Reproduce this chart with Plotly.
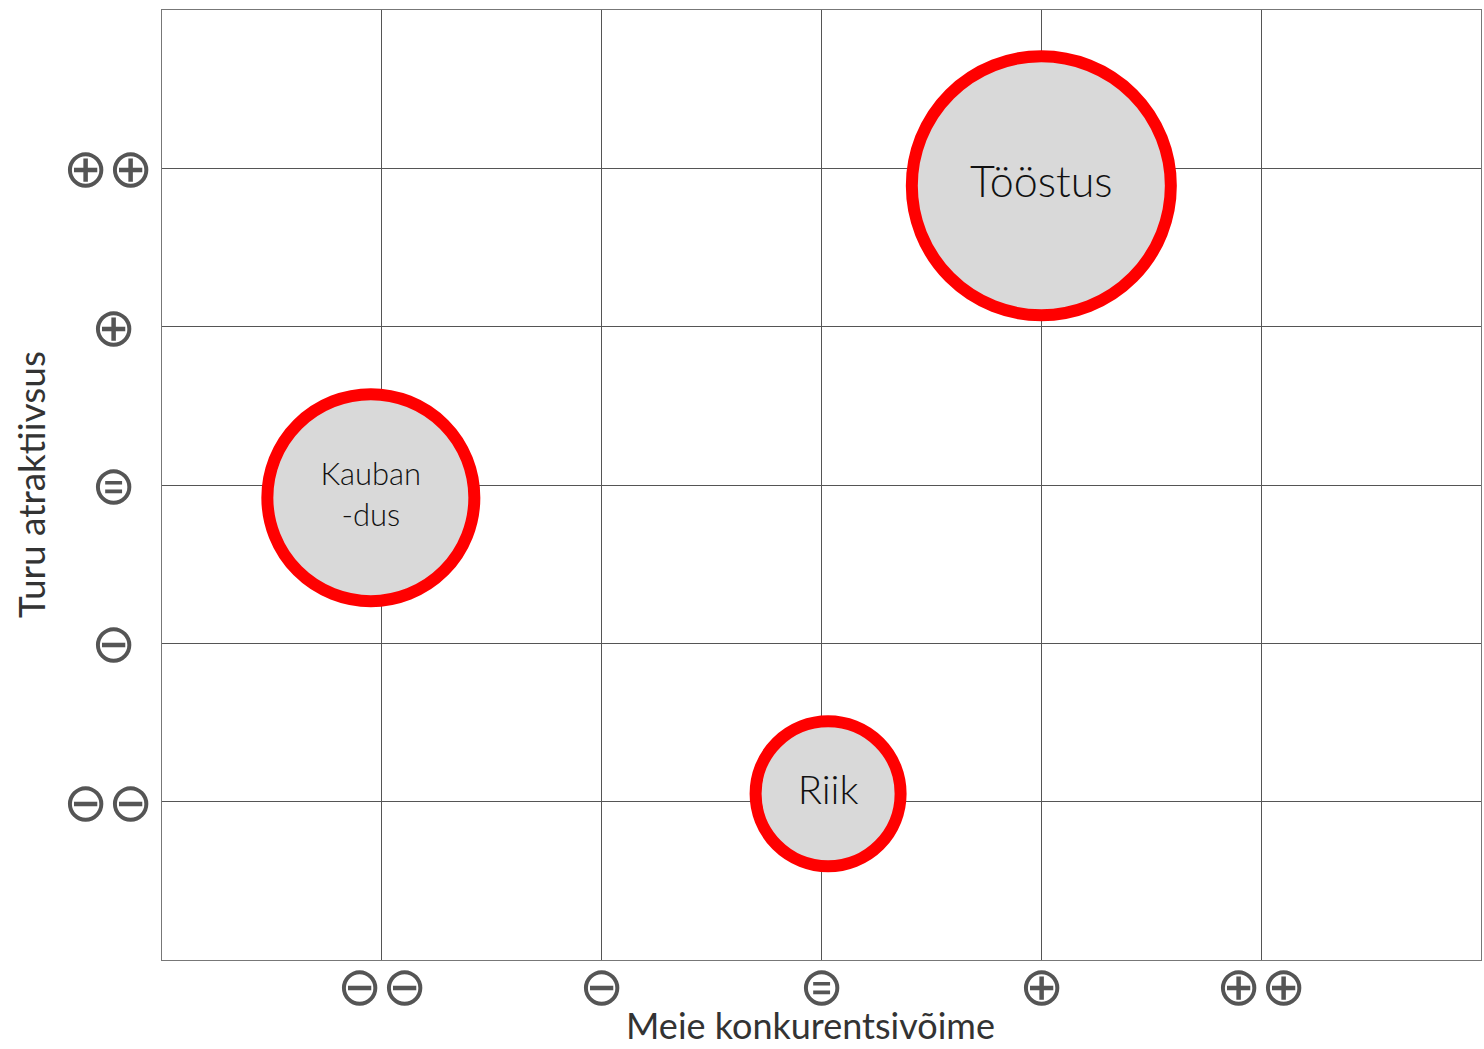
import plotly.graph_objects as go

# Data
names = ["Tööstus", "Kauban<br>-dus", "Riik"]
competitiveness = [4.0, 0.95, 3.03]
attractiveness = [4.89, 2.92, 1.05]
bubble_size = [259, 207, 145]
text_size = [43, 31, 40]

tick_vals = [1, 2, 3, 4, 5]
x_tick_text = ["⊖⊖", "⊖", "⊜", "⊕", "⊕⊕"]
y_tick_text = ["⊖⊖", "⊖\u00a0", "⊜\u00a0", "⊕\u00a0", "⊕⊕"]
x_title = "Meie konkurentsivõime"
y_title = "Turu atraktiivsus"

fig = go.Figure()
fig.add_trace(go.Scatter(
    x=competitiveness, y=attractiveness,
    mode="markers+text",
    text=names,
    textposition="middle center",
    textfont=dict(family="Lato", size=text_size, color="#111", weight=300),
    marker=dict(size=bubble_size, color="#d9d9d9",
                line=dict(color="#ff0000", width=12), opacity=1),
    hoverinfo="skip",
    showlegend=False,
))

axis_common = dict(
    tickvals=tick_vals,
    showgrid=True, gridcolor="#555", gridwidth=1,
    zeroline=False,
    showline=True, linecolor="#777", linewidth=1, mirror=True,
    ticks="",
    automargin=False,
    tickfont=dict(family="DejaVu Sans", size=54, color="#555", weight=200),
)

fig.update_layout(
    width=1484, height=1049,
    margin=dict(l=162, r=3, t=10, b=89),
    paper_bgcolor="white", plot_bgcolor="white",
    xaxis=dict(range=[0, 6], ticktext=x_tick_text, ticklabelstandoff=-21, **axis_common),
    yaxis=dict(range=[0, 6], ticktext=y_tick_text, ticklabelstandoff=-3, **axis_common),
    annotations=[
        dict(text=x_title, xref="paper", yref="paper", x=0.492, y=-0.068,
             xanchor="center", yanchor="middle", showarrow=False,
             font=dict(family="Lato", size=36, color="#333")),
        dict(text=y_title, xref="paper", yref="paper", x=-0.10, y=0.50,
             xanchor="center", yanchor="middle", showarrow=False, textangle=-90,
             font=dict(family="Lato", size=37, color="#333")),
    ],
)

fig.write_html("out.html")
